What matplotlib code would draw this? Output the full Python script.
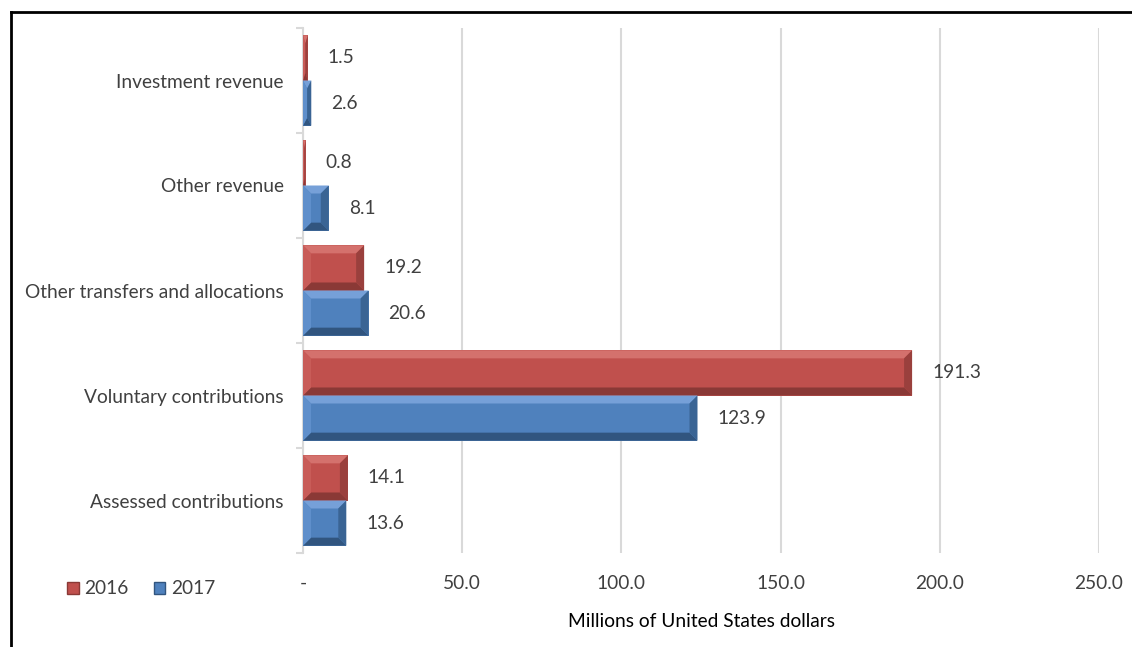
import matplotlib.pyplot as plt
import numpy as np
from matplotlib.patches import Polygon, Patch
from matplotlib.lines import Line2D

categories = ['Assessed contributions', 'Voluntary contributions',
              'Other transfers and allocations', 'Other revenue', 'Investment revenue']
y2016 = [14.1, 191.3, 19.2, 0.8, 1.5]
y2017 = [13.6, 123.9, 20.6, 8.1, 2.6]
xticks = [0, 50, 100, 150, 200, 250]
xticklabels = ['-', '50.0', '100.0', '150.0', '200.0', '250.0']

plt.rcParams['font.family'] = ['Lato', 'DejaVu Sans']
txt = '#404040'
fs = 13.8

fig = plt.figure(figsize=(11.32, 6.47), dpi=100)
ax = fig.add_axes([303/1132, 94/647, 796/1132, 525/647])
ax.set_xlim(0, 250)
ax.set_ylim(-0.5, 4.5)

# bevel size in data units (about 8 px)
px_x = 250 / 796
px_y = 5 / 525

red = dict(main='#C0504D', top='#D4716D', bot='#8A3936', left='#C85C58', right='#9A403D')
blue = dict(main='#4F81BD', top='#76A0D8', bot='#31557F', left='#5F8FCB', right='#3A6494')


def bevel_bar(x0, yc, w, h, c):
    y0, y1 = yc - h / 2, yc + h / 2
    x1 = x0 + w
    bx = min(8 * px_x, w / 2)
    by = min(8 * px_y, h / 2)
    ax.add_patch(Polygon([(x0, y0), (x1, y0), (x1, y1), (x0, y1)], closed=True,
                         facecolor=c['main'], edgecolor='none', zorder=3))
    ax.add_patch(Polygon([(x0, y1), (x1, y1), (x1 - bx, y1 - by), (x0 + bx, y1 - by)],
                         facecolor=c['top'], edgecolor='none', zorder=4))
    ax.add_patch(Polygon([(x0, y0), (x1, y0), (x1 - bx, y0 + by), (x0 + bx, y0 + by)],
                         facecolor=c['bot'], edgecolor='none', zorder=4))
    ax.add_patch(Polygon([(x0, y0), (x0, y1), (x0 + bx, y1 - by), (x0 + bx, y0 + by)],
                         facecolor=c['left'], edgecolor='none', zorder=4))
    ax.add_patch(Polygon([(x1, y0), (x1, y1), (x1 - bx, y1 - by), (x1 - bx, y0 + by)],
                         facecolor=c['right'], edgecolor='none', zorder=4))


pos = np.arange(len(categories))
h = 0.43
for i in range(len(categories)):
    bevel_bar(0, pos[i] + h / 2, y2016[i], h, red)
    bevel_bar(0, pos[i] - h / 2, y2017[i], h, blue)
    ax.text(y2016[i] + 20 * px_x, pos[i] + h / 2, f'{y2016[i]:.1f}', va='center',
            ha='left', fontsize=fs, color=txt)
    ax.text(y2017[i] + 20 * px_x, pos[i] - h / 2, f'{y2017[i]:.1f}', va='center',
            ha='left', fontsize=fs, color=txt)

ax.set_yticks(pos)
ax.set_yticklabels(categories, fontsize=fs, color=txt)
ax.set_yticks(np.arange(-0.5, 5, 1), minor=True)
ax.tick_params(axis='y', which='major', length=0, pad=14)
ax.tick_params(axis='y', which='minor', length=5, color='#D9D9D9', width=1.5)

ax.set_xticks(xticks)
ax.set_xticklabels(xticklabels, fontsize=fs, color=txt)
ax.tick_params(axis='x', length=0, pad=16)
ax.set_xlabel('Millions of United States dollars', fontsize=fs, color='black', labelpad=15)

ax.grid(axis='x', color='#D9D9D9', linewidth=1.5, zorder=0)
ax.set_axisbelow(True)
for s in ['top', 'right', 'bottom']:
    ax.spines[s].set_visible(False)
ax.spines['left'].set_color('#D9D9D9')
ax.spines['left'].set_linewidth(1.5)

handles = [Patch(facecolor=red['main'], edgecolor=red['bot']),
           Patch(facecolor=blue['main'], edgecolor=blue['bot'])]
fig.legend(handles, ['2016', '2017'], loc='center left', bbox_to_anchor=(50/1132, 1 - 589/647),
           ncol=2, frameon=False, fontsize=fs, labelcolor=txt, handlelength=0.6,
           handleheight=0.6, handletextpad=0.3, columnspacing=1.3)

# outer frame (top and left edges visible)
fig.add_artist(Line2D([11/1132, 1], [1 - 12/647, 1 - 12/647], color='black', lw=2))
fig.add_artist(Line2D([11/1132, 11/1132], [0, 1 - 12/647], color='black', lw=2))

fig.savefig('out.png', dpi=100)
